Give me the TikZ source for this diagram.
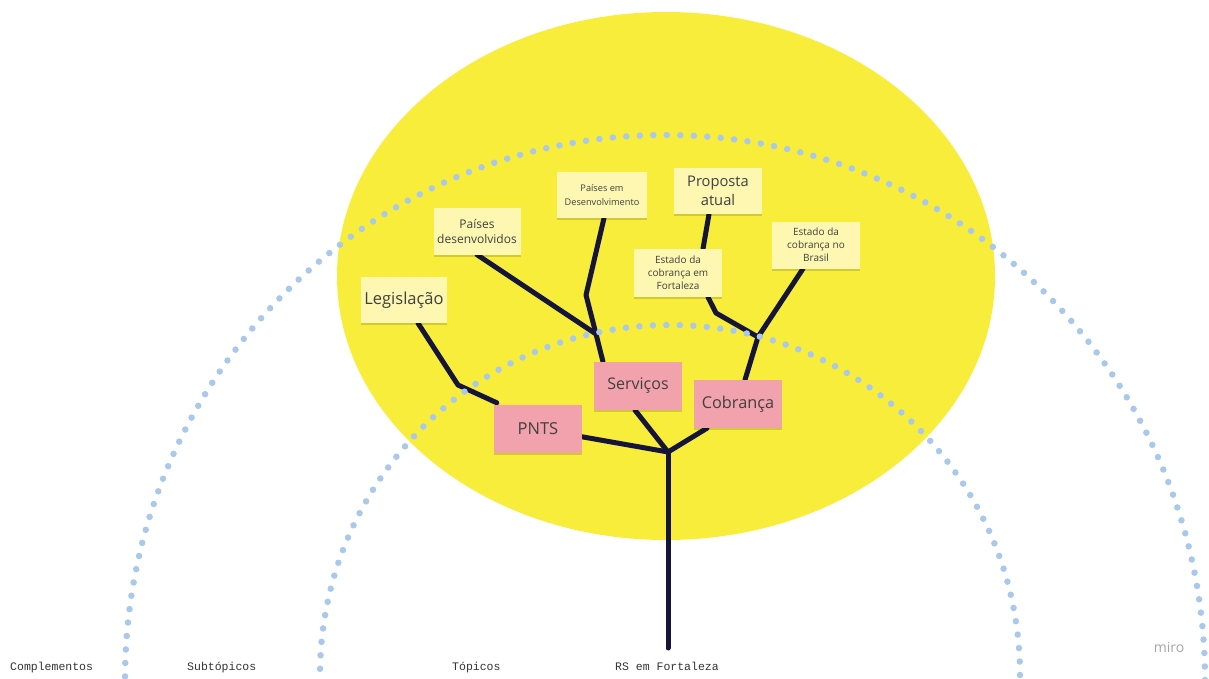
\documentclass[tikz,border=0pt]{standalone}
\usepackage{fontspec}
\setmainfont{Open Sans}
\newfontfamily\monofam{Liberation Mono}
\usetikzlibrary{shadows}
\definecolor{ellyellow}{HTML}{F9ED3C}
\definecolor{notey}{HTML}{FDF7B2}
\definecolor{notep}{HTML}{F1A2AC}
\definecolor{branch}{HTML}{15153A}
\definecolor{dotblue}{HTML}{A9C8EA}
\definecolor{notetext}{HTML}{404040}
\pgfdeclarelayer{bg}
\pgfdeclarelayer{lines}
\pgfdeclarelayer{arcs}
\pgfsetlayers{bg,lines,arcs,main}
\tikzset{
  note/.style={rectangle, minimum width=88pt, minimum height=47pt, inner sep=1pt, align=center,
    text=notetext, drop shadow={shadow xshift=0pt, shadow yshift=-2pt, opacity=0.15, fill=black}},
  ynote/.style={note, fill=notey},
  pnote/.style={note, fill=notep},
  branchline/.style={draw=branch, line width=5pt, line join=round, line cap=round},
  dotarc/.style={draw=dotblue, line width=6.5pt, line cap=round, dash pattern=on 0pt off 13.5pt},
  botlabel/.style={font=\monofam\fontsize{11.5}{13}\selectfont, text=black!80, anchor=base west, inner sep=0pt}
}
\begin{document}
\begin{tikzpicture}[x=1pt,y=-1pt]
\useasboundingbox (0,0) rectangle (1209,679);
% nodes
\node[ynote, minimum width=86pt, minimum height=46pt, font=\fontsize{16.5}{19}\selectfont] (leg) at (404,300) {Legislação};
\node[ynote, minimum width=87pt, font=\fontsize{12}{15}\selectfont] (pd) at (477,231) {Países\\desenvolvidos};
\node[ynote, minimum width=90pt, minimum height=46pt, font=\fontsize{9.2}{14}\selectfont] (pem) at (602,195) {Países em\\Desenvolvimento};
\node[ynote, minimum height=46pt, font=\fontsize{14.7}{18.5}\selectfont] (prop) at (718,191) {Proposta\\atual};
\node[ynote, minimum height=48pt, font=\fontsize{10}{12.8}\selectfont] (ecf) at (678,273) {Estado da\\cobrança em\\Fortaleza};
\node[ynote, font=\fontsize{10}{12.8}\selectfont] (ecb) at (816,245) {Estado da\\cobrança no\\Brasil};
\node[pnote, minimum height=48pt, font=\fontsize{16.5}{19}\selectfont] (pnts) at (538,429) {PNTS};
\node[pnote, minimum height=48pt, font=\fontsize{16}{19}\selectfont] (serv) at (638,386) {Serviços};
\node[pnote, minimum height=48pt, font=\fontsize{16.3}{19}\selectfont] (cob) at (738,404) {Cobrança};
\coordinate (root) at (668,648);
\coordinate (fork) at (668,452);
\coordinate (legbend) at (458,385);
\coordinate (j1) at (596,334);
\coordinate (pembend) at (586,295);
\coordinate (j2) at (758,337);
\coordinate (ecfbend) at (716,313);
% labels
\node[botlabel] (lc) at (10,670) {Complementos};
\node[botlabel] (ls) at (187,670) {Subtópicos};
\node[botlabel] (lt) at (452,670) {Tópicos};
\node[botlabel] (lr) at (615,670) {RS em Fortaleza};
\node[font=\fontsize{14}{16}\selectfont, text=black!35, inner sep=0pt] (miro) at (1169,647) {miro};
% background
\begin{pgfonlayer}{bg}
\fill[white] (0,0) rectangle (1209,679);
\fill[ellyellow] (666,276) ellipse [x radius=329pt, y radius=264pt];
\end{pgfonlayer}
\begin{pgfonlayer}{lines}
\draw[branchline] (root) -- (fork);
\draw[branchline] (fork) -- (pnts.center);
\draw[branchline] (fork) -- ([xshift=-3pt]serv.south);
\draw[branchline] (fork) -- ([xshift=-31pt]cob.south);
\draw[branchline] ([xshift=3pt,yshift=2pt]pnts.north west) -- (legbend) -- ([xshift=14pt]leg.south);
\draw[branchline] ([xshift=-35pt]serv.north) -- (j1) -- (pd.south);
\draw[branchline] (j1) -- (pembend) -- ([xshift=2pt]pem.south);
\draw[branchline] ([xshift=7pt]cob.north) -- (j2) -- ([xshift=-13pt]ecb.south);
\draw[branchline] (j2) -- (ecfbend) -- ([xshift=30pt]ecf.south);
\draw[branchline] ([xshift=-9pt]prop.south) -- ([xshift=25pt]ecf.north);
\end{pgfonlayer}
\begin{pgfonlayer}{arcs}
\clip (0,0) rectangle (1209,679);
\draw[dotarc] (665,680) ellipse [x radius=540pt, y radius=545pt];
\draw[dotarc] (670,675) circle [radius=350pt];
\end{pgfonlayer}
\end{tikzpicture}
\end{document}
